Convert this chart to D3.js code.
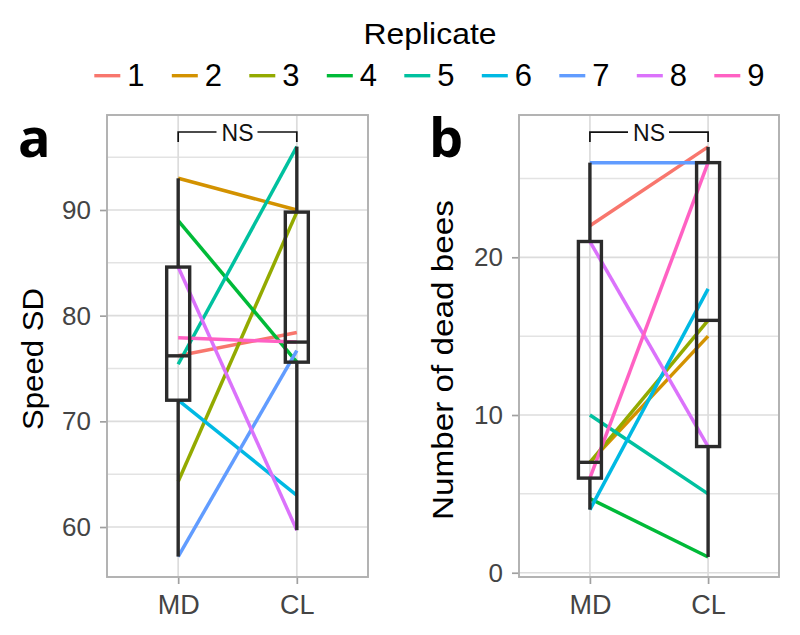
<!DOCTYPE html>
<html>
<head>
<meta charset="utf-8">
<script src="https://cdn.jsdelivr.net/npm/d3@7"></script>
<style>
  html, body { margin: 0; padding: 0; background: #fff; }
  svg { display: block; }
  text { font-family: "Liberation Sans", Arial, Helvetica, sans-serif; }
</style>
</head>
<body>
<svg id="chart" width="800" height="635"></svg>
<script>
// ---------------- data ----------------
const replicates = ["1", "2", "3", "4", "5", "6", "7", "8", "9"];
const groups = ["MD", "CL"];
const replicateColors = ["#F8766D", "#D39200", "#93AA00", "#00BA38", "#00C19F", "#00B9E3", "#619CFF", "#DB72FB", "#FF61C3"];

// Panel a: Speed SD (per replicate, MD then CL)
const speedMD = [76.2, 93.0, 64.3, 89.0, 75.4, 72.0, 57.2, 84.6, 77.9];
const speedCL = [78.4, 90.0, 89.8, 75.6, 96.0, 63.0, 76.7, 59.7, 77.5];
const speedTicks = [60, 70, 80, 90];
const speedMinor = [65, 75, 85, 95];
const speedDomain = [55.27, 98.99];
const speedNS = 97.38;

// Panel b: Number of dead bees
const deadMD = [22, 7, 7, 4.7, 10, 4, 26, 21, 6];
const deadCL = [27, 15, 16, 1, 5, 18, 26, 8, 26];
const deadTicks = [0, 10, 20];
const deadMinor = [5, 15, 25];
const deadDomain = [-0.27, 29.02];
const deadNS = 27.94;

const sigLabel = "NS";

// ---------------- drawing ----------------
const svg = d3.select("#chart");
const color = d3.scaleOrdinal().domain(replicates).range(replicateColors);

function boxStats(vals) {
  const s = vals.slice().sort(d3.ascending);
  const q1 = d3.quantile(s, 0.25), med = d3.quantile(s, 0.5), q3 = d3.quantile(s, 0.75);
  const iqr = q3 - q1;
  const lo = d3.min(s.filter(v => v >= q1 - 1.5 * iqr));
  const hi = d3.max(s.filter(v => v <= q3 + 1.5 * iqr));
  return { q1, med, q3, lo, hi };
}

function drawPanel(cfg) {
  const g = svg.append("g");
  const x = d3.scalePoint().domain(groups).range([cfg.left, cfg.right]).padding(0.6);
  const y = d3.scaleLinear().domain(cfg.domain).range([cfg.bottom, cfg.top]);

  // minor grid
  g.append("g").selectAll("line").data(cfg.minor).join("line")
    .attr("x1", cfg.left).attr("x2", cfg.right)
    .attr("y1", d => y(d)).attr("y2", d => y(d))
    .attr("stroke", "#e3e3e3").attr("stroke-width", 1.5);
  // major grid
  g.append("g").selectAll("line").data(cfg.ticks).join("line")
    .attr("x1", cfg.left).attr("x2", cfg.right)
    .attr("y1", d => y(d)).attr("y2", d => y(d))
    .attr("stroke", "#dcdcdc").attr("stroke-width", 1.7);
  g.append("g").selectAll("line").data(groups).join("line")
    .attr("x1", d => x(d)).attr("x2", d => x(d))
    .attr("y1", cfg.top).attr("y2", cfg.bottom)
    .attr("stroke", "#dcdcdc").attr("stroke-width", 1.7);

  // axes
  const ya = g.append("g").attr("transform", `translate(${cfg.left},0)`)
    .call(d3.axisLeft(y).tickValues(cfg.ticks).tickSize(7).tickPadding(9));
  ya.select(".domain").remove();
  ya.selectAll(".tick line").attr("stroke", "#a0a0a0").attr("stroke-width", 1.7);
  ya.selectAll(".tick text").attr("font-size", 26).attr("fill", "#444")
    .style("font-family", '"Liberation Sans", Arial, sans-serif');

  const xa = g.append("g").attr("transform", `translate(0,${cfg.bottom})`)
    .call(d3.axisBottom(x).tickSize(7).tickPadding(11));
  xa.select(".domain").remove();
  xa.selectAll(".tick line").attr("stroke", "#a0a0a0").attr("stroke-width", 1.7);
  xa.selectAll(".tick text").attr("font-size", 27).attr("fill", "#444")
    .style("font-family", '"Liberation Sans", Arial, sans-serif');

  // replicate lines
  const pairs = replicates.map((r, i) => ({ r, v: [cfg.md[i], cfg.cl[i]] }));
  g.append("g").selectAll("path").data(pairs).join("path")
    .attr("d", d => d3.line().x((v, j) => x(groups[j])).y(v => y(v))(d.v))
    .attr("fill", "none").attr("stroke", d => color(d.r)).attr("stroke-width", 3.5);

  // boxplots
  const bw = 23;
  [cfg.md, cfg.cl].forEach((vals, j) => {
    const st = boxStats(vals);
    const cx = x(groups[j]);
    const bg = g.append("g").attr("stroke", "#2b2b2b").attr("stroke-width", 3.4).attr("fill", "none");
    bg.append("line").attr("x1", cx).attr("x2", cx).attr("y1", y(st.q3)).attr("y2", y(st.hi));
    bg.append("line").attr("x1", cx).attr("x2", cx).attr("y1", y(st.q1)).attr("y2", y(st.lo));
    bg.append("rect").attr("x", cx - bw / 2).attr("width", bw)
      .attr("y", y(st.q3)).attr("height", y(st.q1) - y(st.q3));
    bg.append("line").attr("x1", cx - bw / 2).attr("x2", cx + bw / 2)
      .attr("y1", y(st.med)).attr("y2", y(st.med));
  });

  // panel border
  g.append("rect").attr("x", cfg.left).attr("y", cfg.top)
    .attr("width", cfg.right - cfg.left).attr("height", cfg.bottom - cfg.top)
    .attr("fill", "none").attr("stroke", "#b0b0b0").attr("stroke-width", 1.9);

  // significance bracket
  const by = y(cfg.ns), x1 = x(groups[0]), x2 = x(groups[1]), xm = (x1 + x2) / 2;
  const sg = g.append("g").attr("stroke", "#111").attr("stroke-width", 1.7).attr("fill", "none");
  sg.append("path").attr("d", `M${x1},${by + 10}V${by}H${xm - 21}`);
  sg.append("path").attr("d", `M${xm + 20},${by}H${x2}V${by + 10}`);
  g.append("text").attr("x", xm).attr("y", by + 8.5).attr("text-anchor", "middle")
    .attr("font-size", 23).attr("fill", "#111").text(sigLabel);

  // axis title
  g.append("text").attr("transform", `translate(${cfg.titleX},${cfg.titleY}) rotate(-90)`)
    .attr("text-anchor", "middle").attr("font-size", 30).attr("fill", "#000")
    .attr("textLength", cfg.titleLen).attr("lengthAdjust", "spacingAndGlyphs")
    .text(cfg.title);

  // panel letter
  g.append("text").attr("x", cfg.letterX).attr("y", 157)
    .attr("font-size", 54).attr("font-weight", "bold").attr("fill", "#000")
    .style("font-family", '"Open Sans", "Liberation Sans", sans-serif')
    .text(cfg.letter);
}

drawPanel({ left: 107, right: 368, top: 115, bottom: 577, domain: speedDomain,
  ticks: speedTicks, minor: speedMinor, md: speedMD, cl: speedCL, ns: speedNS,
  title: "Speed SD", titleX: 43, titleY: 359, titleLen: 142, letter: "a", letterX: 18 });
drawPanel({ left: 519, right: 779, top: 115, bottom: 577, domain: deadDomain,
  ticks: deadTicks, minor: deadMinor, md: deadMD, cl: deadCL, ns: deadNS,
  title: "Number of dead bees", titleX: 453, titleY: 360, titleLen: 320, letter: "b", letterX: 429 });

// legend
const lg = svg.append("g");
lg.append("text").attr("x", 430).attr("y", 43.5).attr("text-anchor", "middle")
  .attr("font-size", 30).attr("fill", "#000")
  .attr("textLength", 133).attr("lengthAdjust", "spacingAndGlyphs").text("Replicate");
const key = lg.selectAll("g.key").data(replicates).join("g").attr("class", "key")
  .attr("transform", (d, i) => `translate(${94.3 + i * 77.5},0)`);
key.append("line").attr("x1", 0).attr("x2", 26).attr("y1", 75.7).attr("y2", 75.7)
  .attr("stroke", d => color(d)).attr("stroke-width", 3.4);
key.append("text").attr("x", 33).attr("y", 86).attr("font-size", 31).attr("fill", "#000").text(d => d);
</script>
</body>
</html>
